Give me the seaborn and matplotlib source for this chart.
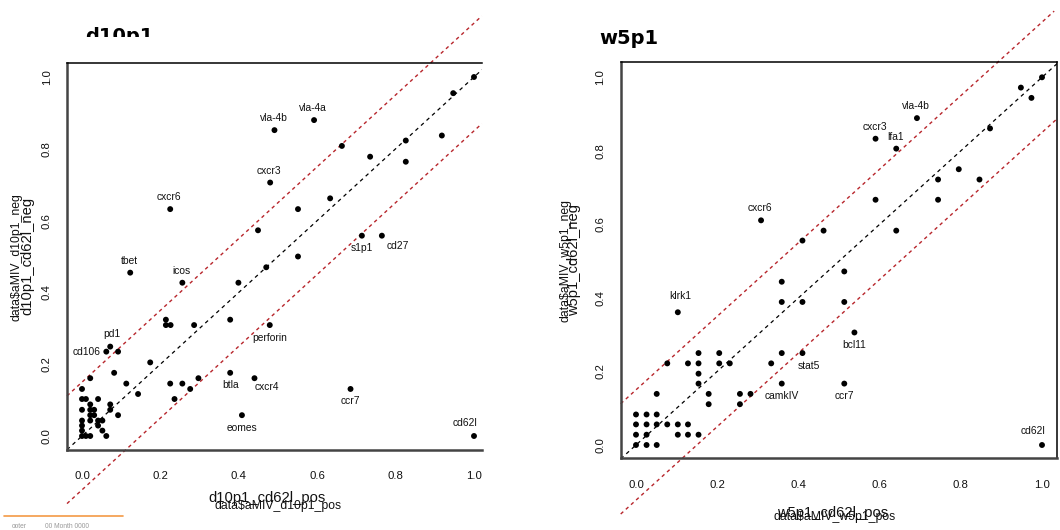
import matplotlib
matplotlib.use("Agg")
import matplotlib.pyplot as plt
import seaborn as sns
import pandas as pd
from matplotlib.patches import Rectangle
from matplotlib.lines import Line2D

# ---------------- data: d10p1 ----------------
d10_x = [1.000, 0.947, 0.592, 0.491, 0.918, 0.826, 0.663, 0.735, 0.826, 0.480,
         0.633, 0.225, 0.551, 0.449, 0.714, 0.765, 0.551, 0.470, 0.123, 0.256,
         0.399, 0.214, 0.214, 0.226, 0.286, 0.378, 0.479, 0.072, 0.062, 0.092,
         0.174, 0.082, 0.021, 0.113, 0.143, 0.225, 0.256, 0.297, 0.276, 0.236,
         0.378, 0.440, 0.685, 0.408, 1.000, 0.092,
         0.000, 0.000, 0.010, 0.000, 0.000, 0.000, 0.000, 0.000, 0.010, 0.021,
         0.021, 0.021, 0.031, 0.021, 0.031, 0.021, 0.041, 0.052, 0.041, 0.041,
         0.052, 0.062, 0.072, 0.072]
d10_y = [1.000, 0.955, 0.880, 0.852, 0.837, 0.823, 0.808, 0.778, 0.764, 0.706,
         0.662, 0.632, 0.632, 0.573, 0.558, 0.558, 0.500, 0.470, 0.455, 0.427,
         0.427, 0.324, 0.309, 0.309, 0.309, 0.324, 0.309, 0.249, 0.235, 0.235,
         0.205, 0.176, 0.161, 0.146, 0.117, 0.146, 0.146, 0.161, 0.131, 0.103,
         0.176, 0.161, 0.131, 0.058, 0.000, 0.058,
         0.131, 0.103, 0.103, 0.073, 0.043, 0.029, 0.015, 0.000, 0.000, 0.000,
         0.088, 0.073, 0.073, 0.058, 0.058, 0.043, 0.043, 0.043, 0.103, 0.029,
         0.015, 0.000, 0.088, 0.073]
d10_labels = ["vla-4a", "vla-4b", "cxcr3", "cxcr6", "tbet", "icos", "pd1", "cd62l",
              "s1p1", "cd27", "perforin", "btla", "cxcr4", "ccr7", "eomes", "cd106"]
d10_label_x = [0.592, 0.491, 0.480, 0.225, 0.123, 0.256, 0.072, 1.000,
               0.714, 0.765, 0.479, 0.378, 0.440, 0.685, 0.408, 0.062]
d10_label_y = [0.880, 0.852, 0.706, 0.632, 0.455, 0.427, 0.249, 0.000,
               0.558, 0.558, 0.309, 0.176, 0.161, 0.131, 0.058, 0.235]
d10_label_side = ["above"] * 8 + ["below"] * 7 + ["left"]

# ---------------- data: w5p1 ----------------
w5_x = [1.000, 0.948, 0.974, 0.692, 0.872, 0.590, 0.641, 0.795, 0.744, 0.846,
        0.590, 0.744, 0.308, 0.462, 0.641, 0.410, 0.513, 0.359, 0.359, 0.410,
        0.513, 0.103, 0.538,
        0.154, 0.205, 0.359, 0.410, 0.077, 0.128, 0.154, 0.205, 0.231, 0.333,
        0.154, 0.154, 0.359, 0.513, 0.051, 0.179, 0.256, 0.282, 0.179, 0.256,
        0.000, 0.026, 0.051,
        0.000, 0.026, 0.051, 0.077, 0.103, 0.128,
        0.000, 0.026, 0.103, 0.128, 0.154,
        0.000, 0.026, 0.051, 1.000]
w5_y = [1.000, 0.972, 0.944, 0.889, 0.861, 0.833, 0.806, 0.750, 0.722, 0.722,
        0.667, 0.667, 0.611, 0.583, 0.583, 0.556, 0.472, 0.444, 0.389, 0.389,
        0.389, 0.361, 0.306,
        0.250, 0.250, 0.250, 0.250, 0.222, 0.222, 0.222, 0.222, 0.222, 0.222,
        0.194, 0.167, 0.167, 0.167, 0.139, 0.139, 0.139, 0.139, 0.111, 0.111,
        0.083, 0.083, 0.083,
        0.056, 0.056, 0.056, 0.056, 0.056, 0.056,
        0.028, 0.028, 0.028, 0.028, 0.028,
        0.000, 0.000, 0.000, 0.000]
w5_labels = ["vla-4b", "cxcr3", "lfa1", "cxcr6", "klrk1", "cd62l",
             "bcl11", "stat5", "camkIV", "ccr7"]
w5_label_x = [0.692, 0.590, 0.641, 0.308, 0.103, 1.000, 0.538, 0.410, 0.359, 0.513]
w5_label_y = [0.889, 0.833, 0.806, 0.611, 0.361, 0.000, 0.306, 0.250, 0.167, 0.167]
w5_label_side = ["above"] * 6 + ["below"] * 4

tick_vals = [0.0, 0.2, 0.4, 0.6, 0.8, 1.0]
tick_text = ["0.0", "0.2", "0.4", "0.6", "0.8", "1.0"]
band = 0.15

# small per-label nudges in pixels (dx, dy)
nudge = {"cxcr4": (12, 3.5), "cd27": (16, 2), "cd62l": (-8, 1.5),
         "stat5": (6, 0), "klrk1": (3, 4), "pd1": (3, 1)}

# ---------------- figure ----------------
sns.set_style("white")
plt.rcParams["font.family"] = ["Liberation Sans", "DejaVu Sans"]

W, H = 1060, 530
fig = plt.figure(figsize=(W / 100, H / 100), dpi=100)


def px_axes(x0, y0, x1, y1):
    return fig.add_axes([x0 / W, 1 - y1 / H, (x1 - x0) / W, (y1 - y0) / H])


def draw_panel(ax, xs, ys, labs, lx, ly, sides, xlim, ylim, red_up_end, red_lo_end,
               show_right):
    df = pd.DataFrame({"x": xs, "y": ys})
    ax.set_xlim(*xlim)
    ax.set_ylim(*ylim)
    # reference lines
    ax.plot([xlim[0], xlim[1]], [xlim[0], xlim[1]], color="black", lw=0.9,
            dashes=(3, 3), zorder=1)
    ax.plot([xlim[0], red_up_end], [xlim[0] + band, red_up_end + band],
            color="#b8262c", lw=1.0, dashes=(2.5, 2.5), clip_on=False, zorder=1)
    ax.plot([xlim[0], red_lo_end], [xlim[0] - band, red_lo_end - band],
            color="#b8262c", lw=1.0, dashes=(2.5, 2.5), clip_on=False, zorder=1)
    sns.scatterplot(data=df, x="x", y="y", ax=ax, color="black", s=18,
                    edgecolor="none", legend=False, zorder=3)
    for name, x, y, side in zip(labs, lx, ly, sides):
        dx, dy = nudge.get(name, (0, 0))
        if side == "above":
            ax.annotate(name, (x, y), xytext=(-1 + dx, 12 + dy),
                        textcoords="offset pixels", ha="center", va="center",
                        fontsize=7.4, color="#111")
        elif side == "below":
            ax.annotate(name, (x, y), xytext=(0 + dx, -12.5 + dy),
                        textcoords="offset pixels", ha="center", va="center",
                        fontsize=7.4, color="#111")
        else:
            ax.annotate(name, (x, y), xytext=(-6 + dx, 0 + dy),
                        textcoords="offset pixels", ha="right", va="center",
                        fontsize=7.4, color="#111")
    ax.set_xticks(tick_vals)
    ax.set_xticklabels(tick_text)
    ax.set_yticks(tick_vals)
    ax.set_yticklabels(tick_text, rotation=90, va="center")
    ax.tick_params(axis="both", length=5, width=1, color="#555", labelsize=8.2,
                   labelcolor="#111", direction="out")
    ax.tick_params(axis="x", pad=10.5)
    ax.tick_params(axis="y", pad=6)
    ax.set_xlabel("")
    ax.set_ylabel("")
    ax.grid(False)
    for s in ["left", "bottom"]:
        ax.spines[s].set_color("#444")
        ax.spines[s].set_linewidth(1.8)
    ax.spines["top"].set_color("black")
    ax.spines["top"].set_linewidth(1.1)
    ax.spines["right"].set_color("black")
    ax.spines["right"].set_linewidth(1.1)
    ax.spines["right"].set_visible(show_right)


# left panel: x=0 at px 82, 392 px/unit ; y=0 at px 436, 359 px/unit
axL = px_axes(67, 63, 482, 449.5)
draw_panel(axL, d10_x, d10_y, d10_labels, d10_label_x, d10_label_y, d10_label_side,
           ((67 - 82) / 392, (482 - 82) / 392), ((436 - 449.5) / 359, (436 - 63) / 359),
           1.02, 1.02, False)

# right panel: x=0 at px 636, 406 px/unit ; y=0 at px 445, 367.7 px/unit
axR = px_axes(620.7, 62.3, 1057.3, 458.3)
draw_panel(axR, w5_x, w5_y, w5_labels, w5_label_x, w5_label_y, w5_label_side,
           ((620.7 - 636) / 406, (1057.3 - 636) / 406),
           ((445 - 458.3) / 367.7, (445 - 62.3) / 367.7),
           1.03, 1.0377, True)


def ftext(x, y, s, **kw):
    return fig.text(x / W, 1 - y / H, s, **kw)


# axis titles (two overlapping labels per axis, as in the reference)
ftext(267, 498, "d10p1_cd62l_pos", fontsize=10.6, ha="center", va="center", color="#111")
ftext(278, 506, "data$aMIV_d10p1_pos", fontsize=8.8, ha="center", va="center", color="#111")
ftext(27, 256, "d10p1_cd62l_neg", fontsize=10.6, ha="center", va="center",
      rotation=90, color="#111")
ftext(17, 257, "data$aMIV_d10p1_neg", fontsize=8.8, ha="center", va="center",
      rotation=90, color="#111")

ftext(833, 513, "w5p1_cd62l_pos", fontsize=10.6, ha="center", va="center", color="#111")
ftext(835, 517, "data$aMIV_w5p1_pos", fontsize=8.8, ha="center", va="center", color="#111")
ftext(574, 260, "w5p1_cd62l_neg", fontsize=10.6, ha="center", va="center",
      rotation=90, color="#111")
ftext(566, 261, "data$aMIV_w5p1_neg", fontsize=8.8, ha="center", va="center",
      rotation=90, color="#111")

# panel titles
ftext(85, 27, "d10p1", fontsize=14, fontweight="bold", family="DejaVu Sans",
      ha="left", va="top", color="black")
fig.patches.append(Rectangle((80 / W, 1 - 60 / H), 90 / W, 23 / H,
                             transform=fig.transFigure, facecolor="white",
                             edgecolor="none", zorder=5))
ftext(599, 29, "w5p1", fontsize=14, fontweight="bold", family="DejaVu Sans",
      ha="left", va="top", color="black")

# footer
fig.lines.append(Line2D([4 / W, 123 / W], [1 - 515.5 / H, 1 - 515.5 / H],
                        transform=fig.transFigure, color="#f39a45", lw=1.2))
ftext(12, 527, "ooter", fontsize=4.8, color="#999", ha="left", va="center")
ftext(45, 527, "00 Month 0000", fontsize=4.8, color="#999", ha="left", va="center")

fig.savefig("out.png", dpi=100)
